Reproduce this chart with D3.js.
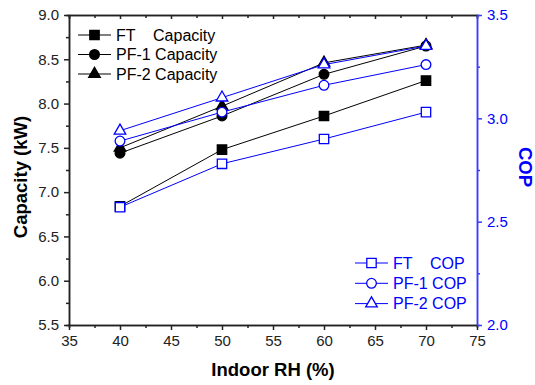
<!DOCTYPE html>
<html>
<head>
<meta charset="utf-8">
<script src="https://cdn.jsdelivr.net/npm/d3@7"></script>
<style>
  body { margin: 0; background: #fff; }
  svg { display: block; font-family: "Liberation Sans", Arial, sans-serif; }
</style>
</head>
<body>
<div id="chart"></div>
<script>
// indoor relative humidity (%)
var rh = [40, 50, 60, 70];

// capacity (kW), left axis
var ftCap  = [6.84, 7.48, 7.86, 8.26];
var pf1Cap = [7.44, 7.86, 8.33, 8.65];
var pf2Cap = [7.50, 7.97, 8.46, 8.66];

// COP, right axis
var ftCop  = [2.57, 2.78, 2.90, 3.03];
var pf1Cop = [2.89, 3.03, 3.16, 3.26];
var pf2Cop = [2.94, 3.10, 3.26, 3.35];

var xTicks = [35, 40, 45, 50, 55, 60, 65, 70, 75];
var capTicks = [5.5, 6.0, 6.5, 7.0, 7.5, 8.0, 8.5, 9.0];
var copTicks = [2.0, 2.5, 3.0, 3.5];

var capNames = ["FT    Capacity", "PF-1 Capacity", "PF-2 Capacity"];
var copNames = ["FT    COP", "PF-1 COP", "PF-2 COP"];

var W = 535, H = 385;
// plot frame (window.top is reserved, so use a prefix)
var pLeft = 69, pRight = 477, pTop = 15, pBottom = 325;
var blue = "#0000ff", blueAxis = "#3c3cff", ink = "#222";

var svg = d3.select("#chart").append("svg")
    .attr("width", W)
    .attr("height", H);

var x = d3.scaleLinear().domain([35, 75]).range([pLeft, pRight]);
var yCap = d3.scaleLinear().domain([5.5, 9.0]).range([pBottom, pTop]);
var yCop = d3.scaleLinear().domain([2.0, 3.5]).range([pBottom, pTop]);

function minors(ticks) {
    var out = [];
    for (var i = 0; i < ticks.length - 1; i++) out.push((ticks[i] + ticks[i + 1]) / 2);
    return out;
}

function styleAxis(g, color) {
    g.selectAll("path, line").attr("stroke", color).attr("stroke-width", 1.5);
    g.selectAll("text").attr("fill", color === blueAxis ? blue : color).style("font-size", "15px");
}

// minor ticks first, major axes on top
svg.append("g").attr("transform", "translate(0," + pBottom + ")")
    .call(d3.axisBottom(x).tickValues(minors(xTicks)).tickSize(3).tickFormat(""))
    .call(styleAxis, ink);
svg.append("g").attr("transform", "translate(0," + pTop + ")")
    .call(d3.axisBottom(x).tickValues(minors(xTicks)).tickSize(3).tickFormat(""))
    .call(styleAxis, ink);
svg.append("g").attr("transform", "translate(" + pLeft + ",0)")
    .call(d3.axisLeft(yCap).tickValues(minors(capTicks)).tickSize(3).tickFormat(""))
    .call(styleAxis, ink);
svg.append("g").attr("transform", "translate(" + pRight + ",0)")
    .call(d3.axisRight(yCop).tickValues(minors(copTicks)).tickSize(3).tickFormat(""))
    .call(styleAxis, blueAxis);

svg.append("g").attr("transform", "translate(0," + pBottom + ")")
    .call(d3.axisBottom(x).tickValues(xTicks).tickSizeInner(5).tickSizeOuter(0).tickPadding(5).tickFormat(d3.format("d")))
    .call(styleAxis, ink);
svg.append("g").attr("transform", "translate(0," + pTop + ")")
    .call(d3.axisBottom(x).tickValues(xTicks).tickSizeInner(4).tickSizeOuter(0).tickFormat(""))
    .call(styleAxis, ink);
svg.append("g").attr("transform", "translate(" + pLeft + ",0)")
    .call(d3.axisLeft(yCap).tickValues(capTicks).tickSizeInner(5).tickSizeOuter(0).tickPadding(5).tickFormat(d3.format(".1f")))
    .call(styleAxis, ink);
svg.append("g").attr("transform", "translate(" + pRight + ",0)")
    .call(d3.axisRight(yCop).tickValues(copTicks).tickSizeInner(5).tickSizeOuter(0).tickPadding(5).tickFormat(d3.format(".1f")))
    .call(styleAxis, blueAxis);

// axis titles
svg.append("text")
    .attr("x", (pLeft + pRight) / 2).attr("y", 376)
    .attr("text-anchor", "middle")
    .style("font-size", "18.5px").style("font-weight", "bold")
    .text("Indoor RH (%)");

svg.append("text")
    .attr("transform", "translate(27,177) rotate(-90)")
    .attr("text-anchor", "middle")
    .style("font-size", "18.5px").style("font-weight", "bold")
    .text("Capacity (kW)");

svg.append("text")
    .attr("transform", "translate(519,167) rotate(90)")
    .attr("text-anchor", "middle")
    .attr("fill", blue)
    .style("font-size", "18.5px").style("font-weight", "bold")
    .text("COP");

var symbols = [d3.symbolSquare, d3.symbolCircle, d3.symbolTriangle];
var sizes = [88, 74, 58];

var capSeries = [ftCap, pf1Cap, pf2Cap];
var copSeries = [ftCop, pf1Cop, pf2Cop];

function drawSeries(values, y, k, color, filled) {
    var pts = rh.map(function (d, i) { return [x(d), y(values[i])]; });
    svg.append("path")
        .datum(pts)
        .attr("fill", "none")
        .attr("stroke", color)
        .attr("stroke-width", 1)
        .attr("d", d3.line());
    svg.append("g").selectAll("path")
        .data(pts)
        .enter().append("path")
        .attr("transform", function (p) { return "translate(" + p[0] + "," + p[1] + ")"; })
        .attr("d", d3.symbol().type(symbols[k]).size(sizes[k]))
        .attr("fill", filled ? color : "#fff")
        .attr("stroke", color)
        .attr("stroke-width", 1.3);
}

capSeries.forEach(function (s, k) { drawSeries(s, yCap, k, "#000", true); });
copSeries.forEach(function (s, k) { drawSeries(s, yCop, k, blue, false); });

// legends
function legend(names, x0, y0, step, color, filled) {
    var g = svg.append("g").attr("transform", "translate(" + x0 + "," + y0 + ")");
    var row = g.selectAll(".row")
        .data(names)
        .enter().append("g")
        .attr("transform", function (d, i) { return "translate(0," + i * step + ")"; });
    row.append("line")
        .attr("x1", 0).attr("x2", 33)
        .attr("stroke", color).attr("stroke-width", 1);
    row.append("path")
        .attr("transform", "translate(16.5,0)")
        .attr("d", function (d, i) { return d3.symbol().type(symbols[i]).size(sizes[i])(); })
        .attr("fill", filled ? color : "#fff")
        .attr("stroke", color)
        .attr("stroke-width", 1.3);
    row.append("text")
        .attr("x", 38).attr("dy", "0.36em")
        .attr("fill", color)
        .style("font-size", "16px")
        .style("white-space", "pre")
        .text(function (d) { return d; });
}

legend(capNames, 78, 35, 19.5, "#000", true);
legend(copNames, 355, 263, 20.3, blue, false);
</script>
</body>
</html>
